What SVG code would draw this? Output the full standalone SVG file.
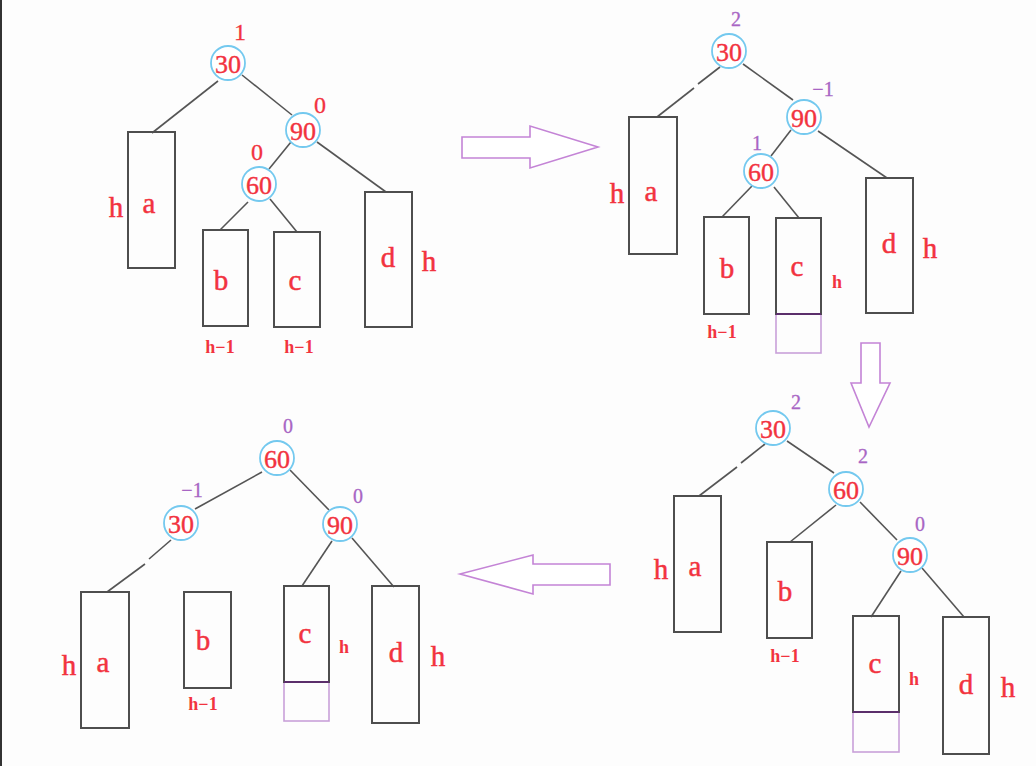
<svg xmlns="http://www.w3.org/2000/svg" width="1036" height="766" viewBox="0 0 1036 766">
<style>
.bg{fill:#fdfdfd}
.nc{fill:#ffffff;stroke:#74c9ef;stroke-width:1.8}
.nt{font-family:"Liberation Serif",serif;font-size:26px;fill:#f2333f;stroke:#f2333f;stroke-width:0.4;text-anchor:middle;dominant-baseline:central}
.st{fill:none;stroke:#4e4e4e;stroke-width:2}
.lt{font-family:"Liberation Serif",serif;font-size:29px;fill:#f2333f;stroke:#f2333f;stroke-width:0.5;text-anchor:middle;dominant-baseline:central}
.sm{font-family:"Liberation Serif",serif;font-size:18px;font-weight:bold;fill:#f2333f;text-anchor:middle;dominant-baseline:central}
.bf{font-family:"Liberation Serif",serif;font-size:24px;fill:#f2333f;stroke:#f2333f;stroke-width:0.3;text-anchor:middle;dominant-baseline:central}
.bp{font-family:"Liberation Serif",serif;font-size:20px;fill:#a865c4;stroke:#a865c4;stroke-width:0.3;text-anchor:middle;dominant-baseline:central}
.e{stroke:#555;stroke-width:1.6;fill:none}
.ext{fill:none;stroke:#c9a0d9;stroke-width:1.6}
.extl{stroke:#5b2e6b;stroke-width:2.2}
.arr{fill:#ffffff;stroke:#c484d6;stroke-width:1.6}
</style>
<rect class="bg" x="0" y="0" width="1036" height="766"/>
<rect x="0" y="0" width="2" height="766" fill="#333"/>

<g id="connectors">
  <!-- Q1 -->
  <line class="e" x1="218" y1="81" x2="152" y2="133"/>
  <line class="e" x1="242" y1="75" x2="292" y2="115"/>
  <line class="e" x1="291" y1="142" x2="269" y2="169"/>
  <line class="e" x1="317" y1="142" x2="386" y2="192"/>
  <line class="e" x1="248" y1="202" x2="220" y2="230"/>
  <line class="e" x1="270" y1="199" x2="297" y2="232"/>
  <!-- Q2 -->
  <line class="e" x1="720" y1="67" x2="698" y2="84"/>
  <line class="e" x1="694" y1="88" x2="657" y2="117"/>
  <line class="e" x1="743" y1="64" x2="793" y2="100"/>
  <line class="e" x1="791" y1="130" x2="771" y2="156"/>
  <line class="e" x1="818" y1="131" x2="887" y2="178"/>
  <line class="e" x1="752" y1="186" x2="722" y2="217"/>
  <line class="e" x1="774" y1="187" x2="799" y2="218"/>
  <!-- Q3 -->
  <line class="e" x1="765" y1="444" x2="741" y2="463"/>
  <line class="e" x1="737" y1="467" x2="699" y2="496"/>
  <line class="e" x1="787" y1="441" x2="834" y2="473" stroke-width="2"/>
  <line class="e" x1="836" y1="505" x2="790" y2="542"/>
  <line class="e" x1="860" y1="502" x2="897" y2="540"/>
  <line class="e" x1="901" y1="571" x2="871" y2="617"/>
  <line class="e" x1="922" y1="568" x2="964" y2="617"/>
  <!-- Q4 -->
  <line class="e" x1="262" y1="472" x2="195" y2="509"/>
  <line class="e" x1="290" y1="470" x2="329" y2="510"/>
  <line class="e" x1="171" y1="540" x2="149" y2="559"/>
  <line class="e" x1="145" y1="564" x2="107" y2="592"/>
  <line class="e" x1="332" y1="541" x2="302" y2="586"/>
  <line class="e" x1="352" y1="538" x2="394" y2="587"/>
  <!-- step arrows -->
  <polygon class="arr" points="462,137 530,137 530,126 598,147 530,168 530,158 462,158"/>
  <polygon class="arr" points="861,343 880,343 880,383 890,383 869,427 851,383 861,383"/>
  <polygon class="arr" points="460,574 533,555 533,564 610,564 610,585 533,585 533,594"/>
</g>

<!-- ===== Q1 ===== -->
<g id="q1-n30"><circle class="nc" cx="228" cy="63" r="17"/><text class="nt" x="228" y="64">30</text><text class="bf" x="240" y="32">1</text></g>
<g id="q1-n90"><circle class="nc" cx="303" cy="130" r="17"/><text class="nt" x="303" y="131">90</text><text class="bf" x="320" y="105">0</text></g>
<g id="q1-n60"><circle class="nc" cx="259" cy="184" r="17"/><text class="nt" x="259" y="185">60</text><text class="bf" x="257" y="152">0</text></g>
<g id="q1-a"><rect class="st" x="128" y="132" width="47" height="136"/><text class="lt" x="149" y="203">a</text><text class="lt" x="116" y="207">h</text></g>
<g id="q1-b"><rect class="st" x="203" y="230" width="45" height="96"/><text class="lt" x="221" y="280">b</text><text class="sm" x="220" y="347">h−1</text></g>
<g id="q1-c"><rect class="st" x="274" y="232" width="46" height="95"/><text class="lt" x="295" y="280">c</text><text class="sm" x="299" y="347">h−1</text></g>
<g id="q1-d"><rect class="st" x="365" y="192" width="47" height="135"/><text class="lt" x="388" y="257">d</text><text class="lt" x="429" y="261">h</text></g>

<!-- ===== Q2 ===== -->
<g id="q2-n30"><circle class="nc" cx="729" cy="51" r="17"/><text class="nt" x="729" y="52">30</text><text class="bp" x="736" y="19">2</text></g>
<g id="q2-n90"><circle class="nc" cx="804" cy="117" r="17"/><text class="nt" x="804" y="118">90</text><text class="bp" x="823" y="89">−1</text></g>
<g id="q2-n60"><circle class="nc" cx="761" cy="171" r="17"/><text class="nt" x="761" y="172">60</text><text class="bp" x="757" y="143">1</text></g>
<g id="q2-a"><rect class="st" x="629" y="117" width="48" height="137"/><text class="lt" x="651" y="191">a</text><text class="lt" x="617" y="193">h</text></g>
<g id="q2-b"><rect class="st" x="704" y="217" width="45" height="97"/><text class="lt" x="727" y="268">b</text><text class="sm" x="722" y="332">h−1</text></g>
<g id="q2-c"><rect class="ext" x="776" y="314" width="45" height="39"/><rect class="st" x="776" y="218" width="45" height="96"/><line class="extl" x1="776" y1="314" x2="821" y2="314"/><text class="lt" x="797" y="266">c</text><text class="sm" x="837" y="282">h</text></g>
<g id="q2-d"><rect class="st" x="866" y="178" width="47" height="135"/><text class="lt" x="889" y="243">d</text><text class="lt" x="930" y="248">h</text></g>

<!-- ===== Q3 ===== -->
<g id="q3-n30"><circle class="nc" cx="773" cy="428" r="17"/><text class="nt" x="773" y="429">30</text><text class="bp" x="796" y="402">2</text></g>
<g id="q3-n60"><circle class="nc" cx="846" cy="489" r="17"/><text class="nt" x="846" y="490">60</text><text class="bp" x="863" y="456">2</text></g>
<g id="q3-n90"><circle class="nc" cx="910" cy="555" r="17"/><text class="nt" x="910" y="556">90</text><text class="bp" x="920" y="524">0</text></g>
<g id="q3-a"><rect class="st" x="674" y="496" width="47" height="136"/><text class="lt" x="695" y="566">a</text><text class="lt" x="661" y="569">h</text></g>
<g id="q3-b"><rect class="st" x="767" y="542" width="45" height="96"/><text class="lt" x="785" y="591">b</text><text class="sm" x="785" y="656">h−1</text></g>
<g id="q3-c"><rect class="ext" x="853" y="712" width="46" height="40"/><rect class="st" x="853" y="616" width="46" height="96"/><line class="extl" x1="853" y1="712" x2="899" y2="712"/><text class="lt" x="875" y="663">c</text><text class="sm" x="914" y="679">h</text></g>
<g id="q3-d"><rect class="st" x="943" y="617" width="46" height="137"/><text class="lt" x="966" y="684">d</text><text class="lt" x="1008" y="687">h</text></g>

<!-- ===== Q4 ===== -->
<g id="q4-n60"><circle class="nc" cx="277" cy="458" r="17"/><text class="nt" x="277" y="459">60</text><text class="bp" x="288" y="426">0</text></g>
<g id="q4-n30"><circle class="nc" cx="181" cy="523" r="17"/><text class="nt" x="181" y="524">30</text><text class="bp" x="192" y="490">−1</text></g>
<g id="q4-n90"><circle class="nc" cx="340" cy="524" r="17"/><text class="nt" x="340" y="525">90</text><text class="bp" x="358" y="496">0</text></g>
<g id="q4-a"><rect class="st" x="81" y="592" width="48" height="136"/><text class="lt" x="103" y="662">a</text><text class="lt" x="69" y="665">h</text></g>
<g id="q4-b"><rect class="st" x="184" y="592" width="47" height="96"/><text class="lt" x="203" y="640">b</text><text class="sm" x="203" y="704">h−1</text></g>
<g id="q4-c"><rect class="ext" x="284" y="682" width="45" height="39"/><rect class="st" x="284" y="586" width="45" height="96"/><line class="extl" x1="284" y1="682" x2="329" y2="682"/><text class="lt" x="305" y="633">c</text><text class="sm" x="344" y="647">h</text></g>
<g id="q4-d"><rect class="st" x="372" y="586" width="47" height="137"/><text class="lt" x="396" y="652">d</text><text class="lt" x="438" y="656">h</text></g>
</svg>
